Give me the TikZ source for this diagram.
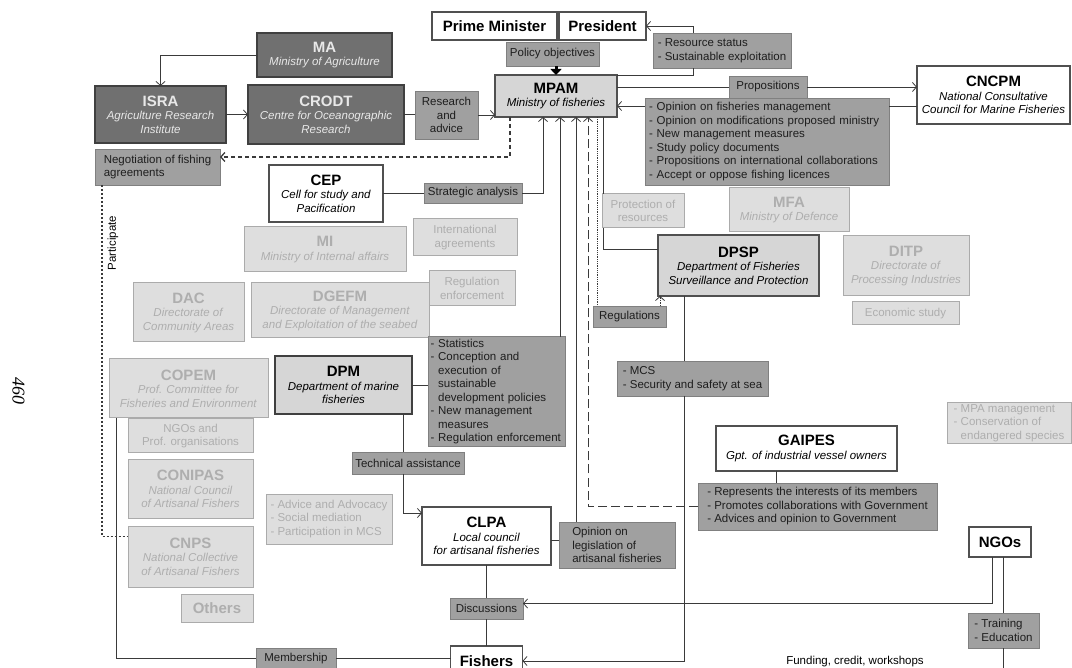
\documentclass[tikz,border=0pt]{standalone}
\usepackage{fontspec}
\setmainfont{Liberation Sans}
\newfontfamily\pagefont{Liberation Serif}
\usetikzlibrary{arrows.meta}

\definecolor{darkfill}{HTML}{707070}
\definecolor{darkline}{HTML}{404040}
\definecolor{darktext}{HTML}{E8E8E8}
\definecolor{tagfill}{HTML}{A0A0A0}
\definecolor{tagline}{HTML}{808080}
\definecolor{tagtext}{HTML}{1E1E1E}
\definecolor{fadefill}{HTML}{DEDEDE}
\definecolor{fadeline}{HTML}{ABABAB}
\definecolor{fadetext}{HTML}{AEAEAE}
\definecolor{corefill}{HTML}{D6D6D6}
\definecolor{coreline}{HTML}{505050}
\definecolor{boxline}{HTML}{505050}
\definecolor{conncol}{HTML}{3A3A3A}

\newcommand{\boxhead}[1]{{\fontsize{15}{17}\selectfont\bfseries #1}}

\tikzset{
    sz/.style 2 args={minimum width=#1pt, minimum height=#2pt},
    whitebox/.style={draw=boxline, line width=1.3pt, fill=white, align=center},
    darkbox/.style={draw=darkline, line width=1.3pt, fill=darkfill, text=darktext, align=center},
    corebox/.style={draw=coreline, line width=1.8pt, fill=corefill, align=center},
    fadebox/.style={draw=fadeline, line width=1pt, fill=fadefill, text=fadetext, align=center},
    tagbox/.style={draw=tagline, line width=0.8pt, fill=tagfill, text=tagtext, align=left},
    conn/.style={draw=conncol, line width=0.8pt},
    openarrow/.style={-{Straight Barb[length=4pt,width=9pt]}},
    negdash/.style={conn, line width=1.3pt, dash pattern=on 4pt off 3pt},
    partdash/.style={conn, line width=1.6pt, dash pattern=on 2pt off 2pt},
    gaidash/.style={conn, dash pattern=on 9pt off 4pt},
    regdot/.style={conn, densely dotted},
}

\begin{document}
\begin{tikzpicture}[x=1pt, y=-1pt,
    every node/.style={inner sep=2pt, outer sep=0pt, font=\fontsize{11.5}{13.5}\selectfont}]
\useasboundingbox (0,0) rectangle (1072,668);

% government and research
\node[whitebox, sz={125}{28}] (pm) at (494.5,26) {\boxhead{Prime Minister}};
\node[whitebox, sz={87}{28}] (pres) at (602.5,26) {\boxhead{President}};
\node[tagbox, sz={93}{24}] (policy) at (552.5,54) {Policy objectives};
\node[tagbox, sz={138}{35}] (resstat) at (722,50.5) {- Resource status\\- Sustainable exploitation};
\node[corebox, sz={122}{42}] (mpam) at (556,96) {\boxhead{MPAM}\\\textit{Ministry of fisheries}};
\node[darkbox, sz={135}{44}] (ma) at (324.5,55) {\boxhead{MA}\\\textit{Ministry of Agriculture}};
\node[darkbox, sz={131}{57}] (isra) at (160.5,114.5) {\boxhead{ISRA}\\\textit{Agriculture Research}\\\textit{Institute}};
\node[darkbox, sz={156}{59}] (crodt) at (326,114.5) {\boxhead{CRODT}\\\textit{Centre for Oceanographic}\\\textit{Research}};
\node[tagbox, align=center, sz={63}{48}] (research) at (446.5,115) {Research\\and\\advice};
\node[tagbox, sz={78}{22}] (props) at (768,87) {Propositions};
\node[whitebox, sz={153}{58}] (cncpm) at (993.5,95) {\boxhead{CNCPM}\\\textit{National Consultative}\\\textit{Council for Marine Fisheries}};
\node[tagbox, text width=236pt, inner xsep=4pt, minimum height=87pt] (opinion) at (767,141.5) {- Opinion on fisheries management\\- Opinion on modifications proposed ministry\\- New management measures\\- Study policy documents\\- Propositions on international collaborations\\- Accept or oppose fishing licences};
\node[tagbox, sz={125}{36}] (negot) at (157.5,167) {Negotiation of fishing\\agreements};
\node[whitebox, sz={114}{57}] (cep) at (326,193.5) {\boxhead{CEP}\\\textit{Cell for study and}\\\textit{Pacification}};
\node[tagbox, sz={98}{20}] (strat) at (473,193) {Strategic analysis};

% ministries and directorates
\node[fadebox, sz={82}{34}] (protres) at (643,211) {Protection of\\resources};
\node[fadebox, sz={120}{44}] (mfa) at (789,210) {\boxhead{MFA}\\\textit{Ministry of Defence}};
\node[fadebox, sz={104}{37}] (intagr) at (465,237.5) {International\\agreements};
\node[fadebox, sz={162}{45}] (mi) at (325,249.5) {\boxhead{MI}\\\textit{Ministry of Internal affairs}};
\node[corebox, sz={161}{61}] (dpsp) at (738.5,265.5) {\boxhead{DPSP}\\\textit{Department of Fisheries}\\\textit{Surveillance and Protection}};
\node[fadebox, sz={126}{60}] (ditp) at (906,266) {\boxhead{DITP}\\\textit{Directorate of}\\\textit{Processing Industries}};
\node[fadebox, sz={107}{23}] (ecostudy) at (905.5,313.5) {Economic study};
\node[fadebox, sz={86}{35}] (regenf) at (472,288.5) {Regulation\\enforcement};
\node[fadebox, sz={111}{59}] (dac) at (188.5,312.5) {\boxhead{DAC}\\\textit{Directorate of}\\\textit{Community Areas}};
\node[fadebox, sz={178}{55}] (dgefm) at (340,310.5) {\boxhead{DGEFM}\\\textit{Directorate of Management}\\\textit{and Exploitation of the seabed}};
\node[tagbox, sz={73}{21}] (regul) at (629.5,316.5) {Regulations};
\node[corebox, draw=darkline, sz={137}{58}] (dpm) at (343.5,385) {\boxhead{DPM}\\\textit{Department of marine}\\\textit{fisheries}};
\node[tagbox, text width=132pt, inner xsep=2.5pt, minimum height=109pt] (dpmlist) at (496.5,391.5) {- Statistics\\- Conception and\\\phantom{- }execution of\\\phantom{- }sustainable\\\phantom{- }development policies\\- New management\\\phantom{- }measures\\- Regulation enforcement};
\node[tagbox, sz={151}{35}] (mcs) at (692.5,378.5) {- MCS\\- Security and safety at sea};
\node[fadebox, align=left, sz={124}{40}] (mpamgt) at (1009,423) {- MPA management\\- Conservation of\\\phantom{- }endangered species};

% artisanal side
\node[fadebox, sz={159}{59}] (copem) at (188.5,388.5) {\boxhead{COPEM}\\\textit{Prof. Committee for}\\\textit{Fisheries and Environment}};
\node[fadebox, sz={125}{34}] (ngopro) at (190.5,436) {NGOs and\\Prof. organisations};
\node[fadebox, sz={125}{58}] (conipas) at (190.5,489) {\boxhead{CONIPAS}\\\textit{National Council}\\\textit{of Artisanal Fishers}};
\node[fadebox, sz={125}{61}] (cnps) at (190.5,556.5) {\boxhead{CNPS}\\\textit{National Collective}\\\textit{of Artisanal Fishers}};
\node[fadebox, sz={72}{28}] (others) at (217,608) {\boxhead{Others}};
\node[fadebox, align=left, sz={126}{50}] (advice) at (329,519) {- Advice and Advocacy\\- Social mediation\\- Participation in MCS};
\node[tagbox, sz={112}{22}] (techass) at (408,463) {Technical assistance};
\node[whitebox, sz={129}{58}] (clpa) at (486.5,536) {\boxhead{CLPA}\\\textit{Local council}\\\textit{for artisanal fisheries}};
\node[tagbox, sz={116}{46}] (opleg) at (617,545) {Opinion on\\legislation of\\artisanal fisheries};
\node[whitebox, sz={181}{45}] (gaipes) at (806.5,448.5) {\boxhead{GAIPES}\\\textit{Gpt. of industrial vessel owners}};
\node[tagbox, sz={239}{47}] (gaiplist) at (817.5,506.5) {- Represents the interests of its members\\- Promotes collaborations with Government\\- Advices and opinion to Government};
\node[whitebox, sz={62}{30}] (ngos) at (1000,542) {\boxhead{NGOs}};
\node[tagbox, sz={73}{21}] (discuss) at (486.5,608.5) {Discussions};
\node[tagbox, sz={71}{35}] (training) at (1003.5,630.5) {- Training\\- Education};
\node[whitebox, sz={72}{30}] (fishers) at (486.5,661) {\boxhead{Fishers}};
\node[tagbox, sz={80}{20}] (member) at (296,658.5) {Membership};
\node (funding) at (855,662) {Funding, credit, workshops};
\node[rotate=90] (partlbl) at (113,243) {Participate};
\node[rotate=-90, font=\pagefont\fontsize{18}{20}\selectfont\itshape] (pageno) at (18.5,391) {460};
\coordinate (ngend) at (1003,672);

% links
\draw[conn, openarrow] (ma.west) -| (isra.north);
\draw[conn, openarrow] (isra.east) -- (isra.east -| crodt.west);
\draw[conn] (crodt.east) -- (crodt.east -| research.west);
\draw[conn, openarrow] (research.east) -- (research.east -| mpam.west);
\draw[line width=3pt, -{Triangle[length=6pt,width=11pt]}] (policy.south -| mpam.north) -- (mpam.north);
\draw[conn] (mpam.north east) -| ([xshift=40pt]resstat.south west);
\draw[conn, openarrow] ([xshift=40pt]resstat.north west) |- (pres.east);
\draw[conn] ([yshift=9pt]mpam.east) -- ([yshift=9pt]mpam.east -| props.west);
\draw[conn, openarrow] (props.east) -- (props.east -| cncpm.west);
\coordinate (cnin) at ([yshift=-11pt]cncpm.west);
\draw[conn] (cnin) -- (cnin -| opinion.east);
\draw[conn, openarrow] (cnin -| opinion.west) -- (cnin -| mpam.east);
\draw[negdash, openarrow] ([xshift=15pt]mpam.south west) |- ([yshift=10pt]negot.east);
\draw[partdash] ([xshift=7pt]negot.south west) |- ([yshift=20pt]cnps.west);
\draw[conn] (cep.east) -- (cep.east -| strat.west);
\draw[conn, openarrow] (strat.east) -| ([xshift=-13pt]mpam.south);
\draw[conn] (dpm.east) -- (dpm.east -| dpmlist.west);
\draw[conn, openarrow] ([xshift=-5pt]dpmlist.north east) coordinate (dl) -- (dl |- mpam.south);
\draw[conn] ([yshift=-4pt]clpa.east) -- ([yshift=-4pt]clpa.east -| opleg.west);
\draw[conn, openarrow] ([xshift=17pt]opleg.north west) coordinate (ol) -- (ol |- mpam.south);
\draw[gaidash, openarrow] (gaiplist.west) -| ([xshift=32pt]mpam.south);
\draw[conn] ([xshift=1pt]protres.north west) coordinate (pr) -- (pr |- mpam.south);
\draw[conn] ([xshift=1pt]protres.south west) |- ([yshift=16pt]dpsp.west);
\draw[regdot] ([xshift=-20pt]mpam.south east) coordinate (rg) -- (rg |- regul.north);
\draw[regdot, openarrow] ([xshift=-6pt]regul.north east) coordinate (rd) -- (rd |- dpsp.south);
\draw[conn] ([xshift=26pt]dpsp.south west) coordinate (dp) -- (dp |- mcs.north);
\draw[conn, openarrow] (dp |- mcs.south) |- (fishers.east);
\draw[conn] ([xshift=-30pt]gaipes.south) coordinate (gp) -- (gp |- gaiplist.north);
\draw[conn] ([xshift=-5pt]techass.north) coordinate (ta) -- (ta |- dpm.south);
\draw[conn, openarrow] (ta |- techass.south) |- ([yshift=23pt]clpa.west);
\draw[conn] (clpa.south) -- (discuss.north);
\draw[conn] (discuss.south) -- (fishers.north);
\draw[conn, openarrow] ([xshift=-8pt]ngos.south) |- ([yshift=5pt]discuss.east);
\draw[conn] ([xshift=3pt]ngos.south) coordinate (ng) -- (ng |- training.north);
\draw[conn] (ng |- training.south) -- (ng |- ngend);
\draw[conn] ([xshift=7pt]copem.south west) |- (member.west);
\draw[conn] (member.east) -- (member.east -| fishers.west);
\end{tikzpicture}
\end{document}
